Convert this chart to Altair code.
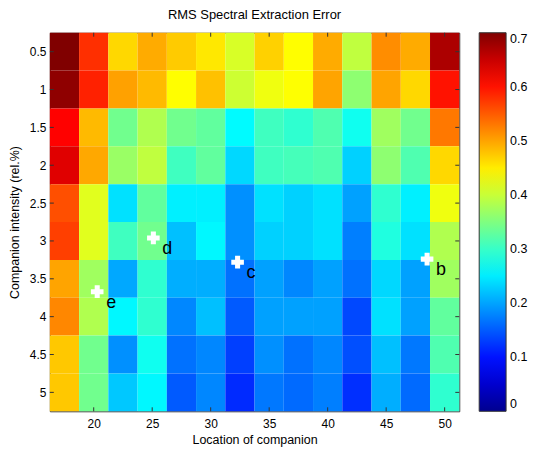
import altair as alt
import pandas as pd

# Column centres (location of companion) and row centres (companion intensity)
x_centers = [17.5, 20, 22.5, 25, 27.5, 30, 32.5, 35, 37.5, 40, 42.5, 45, 47.5, 50]
y_centers = [0.5, 1, 1.5, 2, 2.5, 3, 3.5, 4, 4.5, 5]

# RMS error values, one row per intensity (top to bottom)
row_05 = [0.700, 0.580, 0.464, 0.495, 0.473, 0.453, 0.411, 0.469, 0.438, 0.495, 0.394, 0.516, 0.495, 0.670]
row_10 = [0.690, 0.590, 0.502, 0.485, 0.438, 0.480, 0.403, 0.427, 0.437, 0.500, 0.360, 0.500, 0.464, 0.600]
row_15 = [0.612, 0.485, 0.340, 0.383, 0.340, 0.329, 0.260, 0.306, 0.295, 0.317, 0.273, 0.372, 0.340, 0.530]
row_20 = [0.634, 0.497, 0.368, 0.394, 0.306, 0.329, 0.236, 0.306, 0.310, 0.317, 0.231, 0.360, 0.317, 0.464]
row_25 = [0.558, 0.417, 0.242, 0.329, 0.252, 0.252, 0.186, 0.242, 0.231, 0.242, 0.198, 0.295, 0.252, 0.427]
row_30 = [0.569, 0.417, 0.306, 0.340, 0.219, 0.258, 0.186, 0.231, 0.231, 0.242, 0.175, 0.284, 0.242, 0.383]
row_35 = [0.500, 0.372, 0.203, 0.295, 0.207, 0.207, 0.165, 0.198, 0.180, 0.198, 0.165, 0.236, 0.198, 0.372]
row_40 = [0.520, 0.383, 0.258, 0.295, 0.180, 0.219, 0.149, 0.198, 0.198, 0.198, 0.137, 0.242, 0.198, 0.329]
row_45 = [0.475, 0.340, 0.186, 0.273, 0.165, 0.180, 0.131, 0.186, 0.165, 0.180, 0.142, 0.219, 0.170, 0.317]
row_50 = [0.475, 0.340, 0.225, 0.258, 0.149, 0.180, 0.116, 0.170, 0.160, 0.175, 0.120, 0.207, 0.160, 0.295]
rows = [row_05, row_10, row_15, row_20, row_25, row_30, row_35, row_40, row_45, row_50]

x_ticks = [20, 25, 30, 35, 40, 45, 50]
y_ticks = [0.5, 1, 1.5, 2, 2.5, 3, 3.5, 4, 4.5, 5]
cbar_ticks = [0, 0.1, 0.2, 0.3, 0.4, 0.5, 0.6, 0.7]

marker_labels = ["b", "c", "d", "e"]
marker_x = [48.5, 32.3, 25.1, 20.3]
marker_y = [3.24, 3.28, 2.96, 3.67]

FONT = "Liberation Sans"

records = [
    {"x": xc, "y": yc, "v": rows[i][j]}
    for i, yc in enumerate(y_centers)
    for j, xc in enumerate(x_centers)
]
df = pd.DataFrame(records)
df_m = pd.DataFrame({"x": marker_x, "y": marker_y, "label": marker_labels})
df_xt = pd.DataFrame({"t": x_ticks})
df_yt = pd.DataFrame({"t": y_ticks})

xs = alt.Scale(domain=[16.25, 51.25], nice=False, zero=False)
ys = alt.Scale(domain=[0.25, 5.25], nice=False, zero=False, reverse=True)

x_axis = alt.Axis(values=x_ticks, title="Location of companion", format="~g",
                  ticks=False, grid=False, domain=False,
                  labelPadding=7, titlePadding=4)
y_axis = alt.Axis(values=y_ticks, title="Companion intensity (rel.%)", format="~g",
                  ticks=False, grid=False, domain=False,
                  labelPadding=4, titlePadding=8)

jet = alt.Scale(
    type="linear",
    domain=[0, 0.0875, 0.2625, 0.4375, 0.6125, 0.7],
    range=["#00008f", "#0000ff", "#00ffff", "#ffff00", "#ff0000", "#800000"],
    interpolate="rgb",
)

heat = (
    alt.Chart(df)
    .transform_calculate(
        x0="datum.x - 1.25", x1="datum.x + 1.25",
        y0="datum.y - 0.25", y1="datum.y + 0.25",
    )
    .mark_rect(strokeWidth=0)
    .encode(
        x=alt.X("x0:Q", scale=xs, axis=x_axis),
        x2="x1:Q",
        y=alt.Y("y0:Q", scale=ys, axis=y_axis),
        y2="y1:Q",
        color=alt.Color("v:Q", scale=jet,
                        legend=alt.Legend(title=None, orient="right", offset=20,
                                          gradientLength=380, gradientThickness=27,
                                          values=cbar_ticks, format="~g",
                                          labelFontSize=12.5, labelOffset=4,
                                          labelFont=FONT, labelColor="black",
                                          gradientStrokeColor="#333",
                                          gradientStrokeWidth=1)),
    )
)

tick_color = "#333"
top_ticks = alt.Chart(df_xt).mark_rule(color=tick_color).encode(
    x=alt.X("t:Q", scale=xs, axis=x_axis), y=alt.value(0), y2=alt.value(4))
bot_ticks = alt.Chart(df_xt).mark_rule(color=tick_color).encode(
    x=alt.X("t:Q", scale=xs, axis=x_axis), y=alt.value(376), y2=alt.value(380))
left_ticks = alt.Chart(df_yt).mark_rule(color=tick_color).encode(
    y=alt.Y("t:Q", scale=ys, axis=y_axis), x=alt.value(0), x2=alt.value(4))
right_ticks = alt.Chart(df_yt).mark_rule(color=tick_color).encode(
    y=alt.Y("t:Q", scale=ys, axis=y_axis), x=alt.value(407), x2=alt.value(411))

points = alt.Chart(df_m).mark_point(
    shape="cross", filled=True, color="white", size=160, opacity=1, strokeWidth=0
).encode(
    x=alt.X("x:Q", scale=xs, axis=x_axis),
    y=alt.Y("y:Q", scale=ys, axis=y_axis),
)

labels = alt.Chart(df_m).mark_text(
    align="left", baseline="alphabetic", dx=9, dy=16, fontSize=18, font=FONT, color="black"
).encode(
    x=alt.X("x:Q", scale=xs, axis=x_axis),
    y=alt.Y("y:Q", scale=ys, axis=y_axis),
    text="label:N",
)

chart = (
    alt.layer(heat, top_ticks, bot_ticks, left_ticks, right_ticks, points, labels)
    .properties(
        width=411, height=380,
        title=alt.TitleParams("RMS Spectral Extraction Error", fontSize=13,
                              fontWeight="normal", font=FONT, color="black", offset=10),
        padding={"left": 0, "top": 0, "right": 0, "bottom": 0},
    )
    .configure_view(stroke="#333", strokeWidth=1)
    .configure_axis(labelFont=FONT, labelFontSize=12, labelColor="black",
                    titleFont=FONT, titleFontSize=12.5, titleFontWeight="normal",
                    titleColor="black")
)

chart.save("out.html", embed_options={"renderer": "svg", "actions": False})
